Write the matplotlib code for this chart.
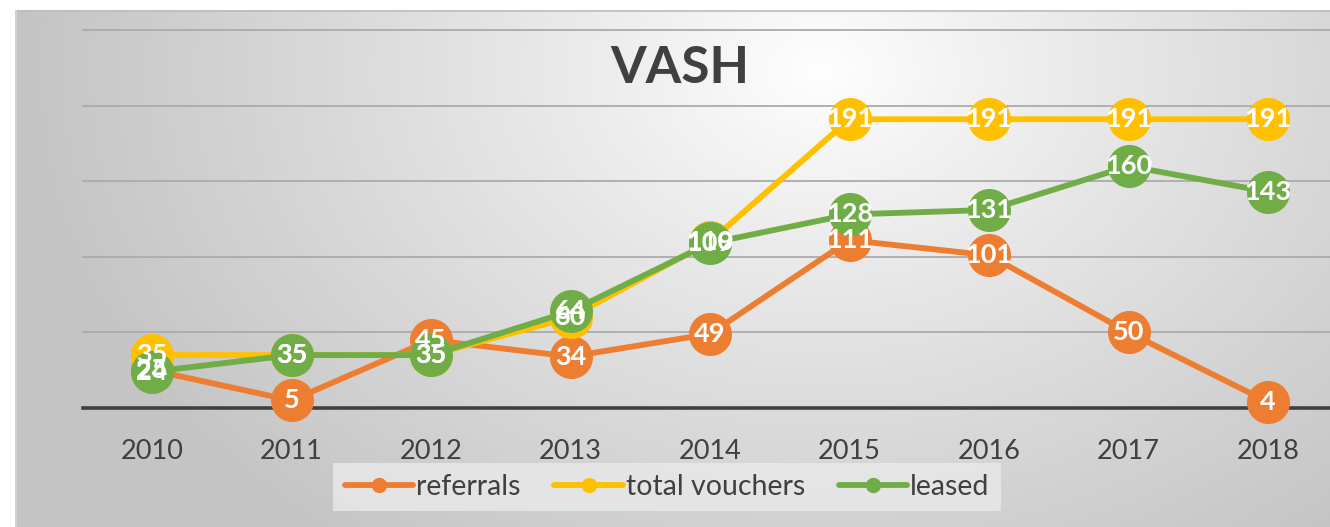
import numpy as np
import matplotlib
matplotlib.use("Agg")
import matplotlib.pyplot as plt
from matplotlib.lines import Line2D

years = ["2010", "2011", "2012", "2013", "2014", "2015", "2016", "2017", "2018"]
referrals = [25, 5, 45, 34, 49, 111, 101, 50, 4]
total_vouchers = [35, 35, 35, 60, 110, 191, 191, 191, 191]
leased = [24, 35, 35, 64, 109, 128, 131, 160, 143]

series_names = ["referrals", "total vouchers", "leased"]
series_vals = [referrals, total_vouchers, leased]
colors = ["#ED7D31", "#FFC000", "#70AD47"]

FONT = ["Lato", "DejaVu Sans"]
plt.rcParams["font.family"] = FONT

W, H = 1330, 527
fig = plt.figure(figsize=(W / 100, H / 100), dpi=100)
fig.patch.set_facecolor("white")

# background radial gradient (chart area)
bx0, by_top = 15, 10
bg = fig.add_axes([bx0 / W, 0, 1 - bx0 / W, 1 - by_top / H], zorder=0)
bw, bh = W - bx0, H - by_top
xx, yy = np.meshgrid(np.arange(bw), np.arange(bh))
cx, cy = 820 - bx0, 70 - by_top
r = np.sqrt(((xx - cx) / 1.0) ** 2 + ((yy - cy) / 0.75) ** 2)
t = np.clip(r / 800, 0, 1) ** 0.9
lo, hi = 0.77, 1.0
val = hi - (hi - lo) * t
img = np.dstack([val, val, val])
bg.imshow(img, aspect="auto", extent=[0, bw, bh, 0], interpolation="bilinear")
bg.plot([0, bw], [0.5, 0.5], color="#bdbdbd", lw=1.2)
bg.plot([0.5, 0.5], [0, bh], color="#d8d8d8", lw=1.2)
bg.set_xlim(0, bw)
bg.set_ylim(bh, 0)
bg.axis("off")

# main axes
ax_left = 83
x0_px, step = 152, 139.5
xl = (ax_left - x0_px) / step
xr = (W - x0_px) / step
y_top_px, y_bot_px = 30, 408
ax = fig.add_axes([ax_left / W, (H - y_bot_px) / H, 1 - ax_left / W, (y_bot_px - y_top_px) / H], zorder=1)
ax.patch.set_alpha(0)
ax.set_xlim(xl, xr)
ax.set_ylim(0, 250)

for yv in [50, 100, 150, 200, 250]:
    ax.axhline(yv, color="#ababab", lw=1.3, zorder=1, clip_on=False)
ax.axhline(0, color="#404040", lw=2.6, zorder=1.5, clip_on=False)

x = np.arange(len(years))
for i, (name, vals, c) in enumerate(zip(series_names, series_vals, colors)):
    ax.plot(x, vals, color=c, lw=4.2, marker="o", markersize=31, markeredgewidth=0,
            solid_capstyle="round", zorder=2 + i * 0.1, clip_on=False)
for i, (vals, c) in enumerate(zip(series_vals, colors)):
    for xi, v in zip(x, vals):
        ax.text(xi, v, str(v), color="white", fontsize=19.5, fontweight="bold",
                ha="center", va="center", zorder=5, clip_on=False)

ax.set_xticks(x)
ax.set_xticklabels(years, fontsize=19.5, color="#404040")
ax.tick_params(axis="x", length=0, pad=22)
ax.set_yticks([])
for s in ax.spines.values():
    s.set_visible(False)

fig.text(680 / W, 1 - 69 / H, "VASH", ha="center", va="center", fontsize=37,
         fontweight="bold", color="#404040")

# legend
handles = [Line2D([0], [0], color=c, lw=4.2, marker="o", markersize=11,
                  markeredgewidth=0, solid_capstyle="round") for c in colors]
leg = fig.legend(handles, series_names, loc="center", bbox_to_anchor=(667 / W, 1 - 487 / H),
                 ncol=3, frameon=True, fontsize=20.5, handlelength=2.4, handletextpad=0.1,
                 columnspacing=1.2, borderpad=0.4, fancybox=False)
leg.get_frame().set_facecolor("#e8e8e8")
leg.get_frame().set_alpha(0.85)
leg.get_frame().set_edgecolor("none")
for tx in leg.get_texts():
    tx.set_color("#404040")

fig.savefig("out.png", dpi=100)
